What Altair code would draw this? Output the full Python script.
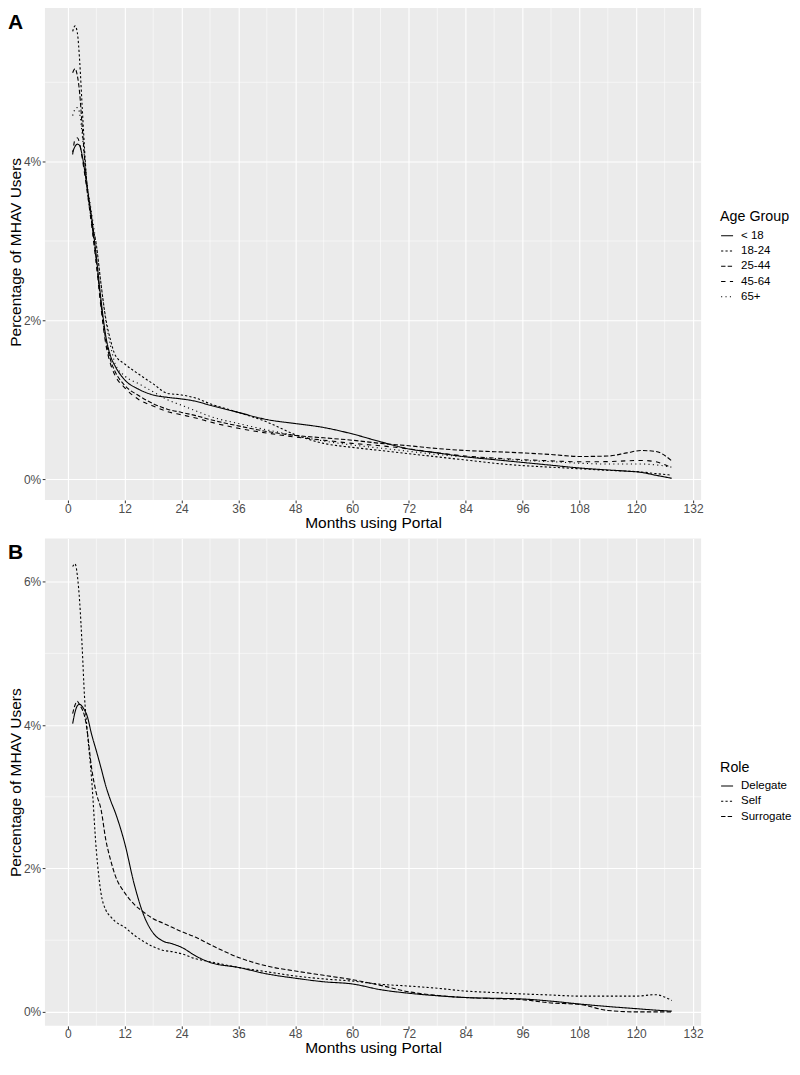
import altair as alt
import pandas as pd

FONT = "Liberation Sans"

# ---------------- Panel A : Age Group ----------------
MONTHS_A = [1, 1.5, 2, 2.5, 3, 4, 5, 6, 7, 8, 9, 10, 12, 15, 18, 21, 24, 27, 30,
            36, 42, 48, 54, 60, 66, 72, 78, 84, 90, 96, 102, 108, 114, 118, 121, 124, 127.5]
AGE_GROUPS = ["< 18", "18-24", "25-44", "45-64", "65+"]
AGE_LT18 = [4.12, 4.19, 4.22, 4.20, 4.08, 3.70, 3.30, 2.80, 2.25, 1.80, 1.55, 1.42,
            1.25, 1.13, 1.06, 1.03, 1.01, 0.98, 0.93,
            0.84, 0.75, 0.70, 0.65, 0.57, 0.47, 0.38, 0.33, 0.28, 0.245, 0.21, 0.175, 0.14, 0.115,
            0.10, 0.085, 0.05, 0.01]
AGE_18_24 = [5.64, 5.71, 5.62, 5.25, 4.70, 3.72, 3.25, 2.95, 2.45, 2.02, 1.75, 1.56,
             1.45, 1.32, 1.20, 1.08, 1.06, 1.02, 0.95,
             0.84, 0.72, 0.56, 0.45, 0.40, 0.36, 0.32, 0.28, 0.24, 0.20, 0.17, 0.15, 0.13, 0.11,
             0.10, 0.09, 0.07, 0.05]
AGE_25_44 = [5.12, 5.17, 5.08, 4.85, 4.45, 3.72, 3.25, 2.75, 2.20, 1.75, 1.50, 1.35,
             1.18, 1.05, 0.95, 0.88, 0.84, 0.80, 0.75,
             0.67, 0.60, 0.55, 0.52, 0.49, 0.45, 0.42, 0.385, 0.36, 0.345, 0.33, 0.31, 0.285, 0.29,
             0.33, 0.36, 0.35, 0.23]
AGE_45_64 = [4.09, 4.28, 4.30, 4.22, 4.05, 3.65, 3.20, 2.70, 2.15, 1.70, 1.45, 1.30,
             1.15, 1.00, 0.92, 0.85, 0.81, 0.77, 0.72,
             0.64, 0.58, 0.53, 0.49, 0.45, 0.42, 0.38, 0.33, 0.29, 0.265, 0.245, 0.23, 0.218, 0.22,
             0.23, 0.235, 0.22, 0.14]
AGE_65P = [4.58, 4.66, 4.68, 4.60, 4.35, 3.75, 3.35, 2.95, 2.45, 2.00, 1.68, 1.45,
           1.30, 1.20, 1.10, 1.00, 0.93, 0.86, 0.79,
           0.70, 0.62, 0.55, 0.48, 0.43, 0.39, 0.35, 0.31, 0.28, 0.26, 0.235, 0.22, 0.20, 0.19,
           0.19, 0.19, 0.18, 0.15]

# ---------------- Panel B : Role ----------------
MONTHS_B = [1, 1.5, 2, 2.5, 3, 3.5, 4, 5, 6, 7, 8, 9, 10, 12, 14, 16, 18, 20, 22, 24, 27, 30,
            36, 42, 48, 54, 60, 66, 72, 78, 84, 90, 96, 102, 108, 114, 120, 124, 127.5]
ROLES = ["Delegate", "Self", "Surrogate"]
ROLE_DELEGATE = [4.02, 4.18, 4.27, 4.29, 4.26, 4.21, 4.14, 3.87, 3.64, 3.40, 3.15, 2.95, 2.78,
                 2.35, 1.78, 1.35, 1.10, 0.99, 0.95, 0.90, 0.78, 0.69,
                 0.62, 0.53, 0.47, 0.42, 0.39, 0.31, 0.26, 0.225, 0.20, 0.19, 0.18, 0.15, 0.11, 0.075,
                 0.045, 0.025, 0.01]
ROLE_SELF = [6.21, 6.25, 6.08, 5.70, 5.10, 4.40, 3.98, 3.25, 2.25, 1.65, 1.42, 1.33, 1.26,
             1.18, 1.07, 0.98, 0.91, 0.86, 0.84, 0.81, 0.74, 0.70,
             0.62, 0.56, 0.50, 0.46, 0.43, 0.385, 0.36, 0.33, 0.29, 0.27, 0.25, 0.235, 0.22, 0.22,
             0.22, 0.24, 0.16]
ROLE_SURROGATE = [4.16, 4.28, 4.33, 4.28, 4.22, 4.13, 3.95, 3.40, 3.05, 2.82, 2.40, 2.12, 1.90,
                  1.66, 1.50, 1.39, 1.30, 1.24, 1.18, 1.12, 1.04, 0.94,
                  0.76, 0.64, 0.57, 0.51, 0.45, 0.37, 0.28, 0.23, 0.20, 0.185, 0.17, 0.125, 0.105, 0.02,
                  0.0, 0.0, 0.0]

# ---------------- Axes ----------------
X_TICKS = [0, 12, 24, 36, 48, 60, 72, 84, 96, 108, 120, 132]
X_MINOR = [6, 18, 30, 42, 54, 66, 78, 90, 102, 114, 126]
X_DOMAIN = [-4.85, 133.7]
Y_TICKS_A = [0, 2, 4]
Y_MINOR_A = [1, 3, 5]
Y_DOMAIN_A = [-0.264, 5.99]
Y_TICKS_B = [0, 2, 4, 6]
Y_MINOR_B = [1, 3, 5]
Y_DOMAIN_B = [-0.195, 6.602]

DASH_A = [[1, 0], [2.2, 2.2], [4.4, 2.2], [4.4, 4.4], [1.1, 3.3]]
DASH_B = [[1, 0], [2.2, 2.2], [4.4, 2.2]]

PANEL_W = 657


def long_frame(months, groups, series, field):
    rows = []
    for g, vals in zip(groups, series):
        for m, v in zip(months, vals):
            rows.append({"m": m, "v": v, field: g})
    return pd.DataFrame(rows)


def panel(df, field, groups, dashes, y_domain, y_ticks, y_minor, height,
          label, label_y, legend_y, x_label_pad, x_title_pad):
    xs = alt.Scale(domain=X_DOMAIN, nice=False, zero=False)
    ys = alt.Scale(domain=y_domain, nice=False, zero=False)
    xa = alt.Axis(values=X_TICKS, title="Months using Portal", format="d",
                  labelPadding=x_label_pad, titlePadding=x_title_pad)
    ya = alt.Axis(values=y_ticks, title="Percentage of MHAV Users",
                  labelExpr="datum.value + '%'")
    xenc = alt.X("m:Q", scale=xs, axis=xa)
    yenc = alt.Y("v:Q", scale=ys, axis=ya)

    minor_x = alt.Chart(pd.DataFrame({"m": X_MINOR})).mark_rule(
        color="white", strokeWidth=0.55).encode(x=xenc)
    minor_y = alt.Chart(pd.DataFrame({"v": y_minor})).mark_rule(
        color="white", strokeWidth=0.55).encode(y=yenc)

    lines = alt.Chart(df).mark_line(
        color="black", strokeWidth=1.1, interpolate="monotone"
    ).encode(
        x=xenc,
        y=yenc,
        strokeDash=alt.StrokeDash(
            f"{field}:N",
            scale=alt.Scale(domain=groups, range=dashes),
            legend=alt.Legend(title=field, orient="none",
                              legendX=676, legendY=legend_y),
        ),
        order=alt.Order("m:Q"),
    )

    tag = alt.Chart(pd.DataFrame({"t": [label]})).mark_text(
        align="left", baseline="top", fontSize=21, fontWeight="bold",
        font=FONT, color="black"
    ).encode(text="t:N", x=alt.value(-37), y=alt.value(label_y))

    return alt.layer(minor_x, minor_y, lines, tag).properties(width=PANEL_W, height=height)


df_a = long_frame(MONTHS_A, AGE_GROUPS,
                  [AGE_LT18, AGE_18_24, AGE_25_44, AGE_45_64, AGE_65P], "Age Group")
df_b = long_frame(MONTHS_B, ROLES,
                  [ROLE_DELEGATE, ROLE_SELF, ROLE_SURROGATE], "Role")

chart_a = panel(df_a, "Age Group", AGE_GROUPS, DASH_A, Y_DOMAIN_A, Y_TICKS_A, Y_MINOR_A,
                497, "A", 8, 207, 0.5, 1.5)
chart_b = panel(df_b, "Role", ROLES, DASH_B, Y_DOMAIN_B, Y_TICKS_B, Y_MINOR_B,
                488, "B", 4, 222.5, 0, 1)

chart = alt.vconcat(chart_a, chart_b, spacing=5.5).resolve_scale(
    x="independent", y="independent", strokeDash="independent"
).resolve_legend(strokeDash="independent").properties(
    padding={"left": 0, "top": -6, "right": 0, "bottom": 0}
).configure(
    font=FONT
).configure_view(
    fill="#EBEBEB", stroke=None
).configure_axis(
    domain=False, tickColor="#333333", tickSize=2.75, tickWidth=1,
    labelColor="#4D4D4D", labelFontSize=12, labelPadding=1.5, labelFont=FONT,
    titleColor="black", titleFontSize=15.5, titleFontWeight="normal", titleFont=FONT,
    gridColor="white", gridWidth=1.1,
).configure_axisY(
    titlePadding=0
).configure_legend(
    titleFontSize=14.3, titleFontWeight="normal", titleColor="black", titleFont=FONT,
    labelFontSize=11.5, labelColor="black", labelFont=FONT, labelOffset=7,
    symbolType="stroke", symbolSize=144, symbolStrokeColor="black",
    symbolStrokeWidth=1.1, rowPadding=2.3, titlePadding=4, padding=0,
)

chart.save("out.html", embed_options={"renderer": "svg", "actions": False})
